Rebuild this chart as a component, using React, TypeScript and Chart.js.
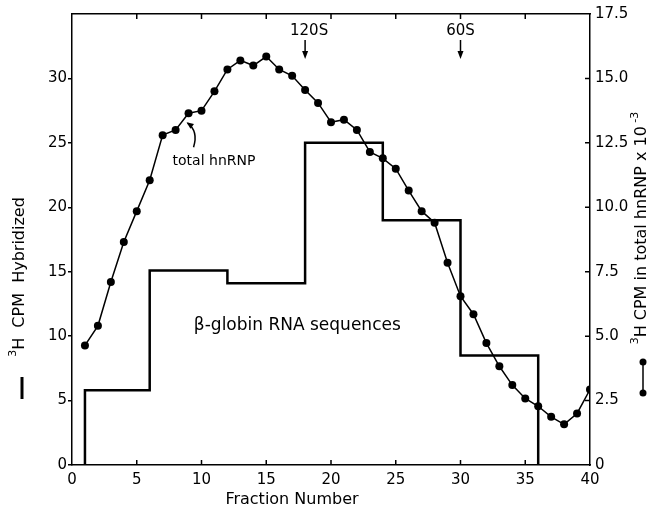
import React, { useEffect, useRef } from 'react';
import { Chart, registerables } from 'chart.js';

Chart.register(...registerables);

// ---- data ----
const fractions = [
  1, 2, 3, 4, 5, 6, 7, 8, 9, 10, 11, 12, 13, 14, 15, 16, 17, 18, 19, 20,
  21, 22, 23, 24, 25, 26, 27, 28, 29, 30, 31, 32, 33, 34, 35, 36, 37, 38, 39, 40,
];
// 3H CPM in total hnRNP x 10^-3 (right axis)
const totalHnRNP = [
  4.64, 5.4, 7.1, 8.65, 9.85, 11.05, 12.8, 13.0, 13.65, 13.75,
  14.5, 15.35, 15.7, 15.5, 15.85, 15.35, 15.1, 14.55, 14.05, 13.3,
  13.4, 13.0, 12.15, 11.9, 11.5, 10.65, 9.85, 9.4, 7.85, 6.55,
  5.85, 4.73, 3.83, 3.1, 2.58, 2.28, 1.87, 1.58, 2.0, 2.93,
];
// beta-globin RNA sequences, 3H CPM hybridized (left axis), pooled fractions
const poolEdges = [1, 6, 12, 18, 24, 30, 36];
const poolValues = [5.8, 15.1, 14.1, 25.0, 19.0, 8.5, 0];
const markers = [
  { label: '120S', fraction: 18 },
  { label: '60S', fraction: 30 },
];

const FONT = '"DejaVu Sans", "Liberation Sans", sans-serif';

type Part = { t: string; sup?: boolean };

function drawRich(ctx: CanvasRenderingContext2D, parts: Part[], cx: number, cy: number, size: number, rotate: boolean) {
  const supSize = Math.round(size * 0.7);
  ctx.save();
  let total = 0;
  const widths = parts.map((p) => {
    ctx.font = `${p.sup ? supSize : size}px ${FONT}`;
    const w = ctx.measureText(p.t).width;
    total += w;
    return w;
  });
  ctx.translate(cx, cy);
  if (rotate) ctx.rotate(-Math.PI / 2);
  ctx.textBaseline = 'middle';
  ctx.textAlign = 'left';
  let x = -total / 2;
  parts.forEach((p, i) => {
    ctx.font = `${p.sup ? supSize : size}px ${FONT}`;
    ctx.fillText(p.t, x, p.sup ? -size * 0.4 : 0);
    x += widths[i];
  });
  ctx.restore();
}

function arrowHead(ctx: CanvasRenderingContext2D, x: number, y: number, ang: number, len: number, half: number) {
  ctx.beginPath();
  ctx.moveTo(x, y);
  ctx.lineTo(x - len * Math.cos(ang) + half * Math.sin(ang), y - len * Math.sin(ang) - half * Math.cos(ang));
  ctx.lineTo(x - len * Math.cos(ang) - half * Math.sin(ang), y - len * Math.sin(ang) + half * Math.cos(ang));
  ctx.closePath();
  ctx.fill();
}

const annotations = {
  id: 'annotations',
  afterDraw(chart: any) {
    const { ctx, chartArea: ca, scales } = chart;
    const xs = scales.x;
    const y2 = scales.y2;
    ctx.save();
    ctx.strokeStyle = '#000';
    ctx.fillStyle = '#000';
    ctx.lineWidth = 1.5;

    // inner tick marks: bottom, top, right
    ctx.beginPath();
    for (let v = 5; v < 40; v += 5) {
      const px = xs.getPixelForValue(v);
      ctx.moveTo(px, ca.bottom);
      ctx.lineTo(px, ca.bottom - 5);
      ctx.moveTo(px, ca.top);
      ctx.lineTo(px, ca.top + 5);
    }
    for (let v = 2.5; v < 17.5; v += 2.5) {
      const py = y2.getPixelForValue(v);
      ctx.moveTo(ca.right, py);
      ctx.lineTo(ca.right - 5, py);
    }
    ctx.stroke();

    // sedimentation markers
    markers.forEach((m) => {
      const px = xs.getPixelForValue(m.fraction);
      ctx.font = `15px ${FONT}`;
      ctx.textAlign = 'center';
      ctx.textBaseline = 'middle';
      ctx.fillText(m.label, px + (m.label.length > 3 ? 4 : 0), ca.top + 17);
      ctx.beginPath();
      ctx.moveTo(px, ca.top + 26);
      ctx.lineTo(px, ca.top + 40);
      ctx.stroke();
      arrowHead(ctx, px, ca.top + 45, Math.PI / 2, 8, 3);
    });

    // total hnRNP label with curved arrow
    const ax = xs.getPixelForValue(9);
    const ay = y2.getPixelForValue(totalHnRNP[8]);
    ctx.font = `14px ${FONT}`;
    ctx.textAlign = 'left';
    ctx.textBaseline = 'middle';
    ctx.fillText('total hnRNP', ax - 16, ay + 48);
    ctx.beginPath();
    ctx.moveTo(ax + 5, ay + 34);
    ctx.quadraticCurveTo(ax + 10, ay + 18, ax - 1, ay + 10);
    ctx.stroke();
    arrowHead(ctx, ax - 2, ay + 9, Math.atan2(-8, -11), 7, 3);

    // beta-globin label
    ctx.font = `17px ${FONT}`;
    ctx.textAlign = 'center';
    ctx.fillText('\u03B2-globin RNA sequences', xs.getPixelForValue(17.4), ca.top + 312);

    // axis titles
    drawRich(ctx, [{ t: 'Fraction Number' }], 292, 500, 16, false);
    drawRich(ctx, [{ t: '3', sup: true }, { t: 'H  CPM  Hybridized' }], 20, 277, 16, true);
    drawRich(
      ctx,
      [{ t: '3', sup: true }, { t: 'H CPM in total hnRNP x 10' }, { t: ' -3', sup: true }],
      642,
      228,
      16,
      true
    );

    // legend keys
    ctx.lineWidth = 3;
    ctx.beginPath();
    ctx.moveTo(22, 377);
    ctx.lineTo(22, 399);
    ctx.stroke();

    ctx.lineWidth = 1.5;
    ctx.beginPath();
    ctx.moveTo(643, 362);
    ctx.lineTo(643, 393);
    ctx.stroke();
    [362, 393].forEach((yy) => {
      ctx.beginPath();
      ctx.arc(643, yy, 3.5, 0, Math.PI * 2);
      ctx.fill();
    });

    ctx.restore();
  },
};

export default function App() {
  const ref = useRef<HTMLCanvasElement | null>(null);

  useEffect(() => {
    if (!ref.current) return;
    const histData = [{ x: poolEdges[0], y: 0 }].concat(
      poolEdges.map((e, i) => ({ x: e, y: poolValues[i] }))
    );
    const tickFont = { family: FONT, size: 15 };
    const chart = new Chart(ref.current, {
      type: 'line',
      data: {
        datasets: [
          {
            label: 'total hnRNP',
            data: fractions.map((f, i) => ({ x: f, y: totalHnRNP[i] })),
            yAxisID: 'y2',
            xAxisID: 'x',
            borderColor: '#000',
            backgroundColor: '#000',
            borderWidth: 1.5,
            pointRadius: 4,
            pointBackgroundColor: '#000',
            pointBorderWidth: 0,
            tension: 0,
            fill: false,
          },
          {
            label: 'beta-globin RNA sequences',
            data: histData,
            yAxisID: 'y',
            xAxisID: 'x',
            borderColor: '#000',
            borderWidth: 2.5,
            pointRadius: 0,
            stepped: 'before',
            fill: false,
          },
        ],
      },
      options: {
        responsive: false,
        animation: false,
        layout: { padding: 0 },
        plugins: { legend: { display: false }, tooltip: { enabled: false } },
        scales: {
          x: {
            type: 'linear',
            position: 'bottom',
            min: 0,
            max: 40,
            ticks: { stepSize: 5, color: '#000', font: tickFont, padding: 6, maxRotation: 0, autoSkip: false },
            grid: { drawOnChartArea: false, drawTicks: false },
            border: { color: '#000', width: 1.5 },
            afterFit: (s: any) => { s.height = 56; },
          },
          xTop: {
            type: 'linear',
            position: 'top',
            min: 0,
            max: 40,
            ticks: { display: false },
            grid: { drawOnChartArea: false, drawTicks: false },
            border: { color: '#000', width: 1.5 },
            afterFit: (s: any) => { s.height = 13; },
          },
          y: {
            type: 'linear',
            position: 'left',
            min: 0,
            max: 35,
            ticks: {
              stepSize: 5,
              color: '#000',
              font: tickFont,
              padding: 1,
              callback: (v: any) => (v === 35 ? null : String(v)),
            },
            grid: { drawOnChartArea: false, drawTicks: true, tickLength: 4, color: '#000', lineWidth: 1.5 },
            border: { color: '#000', width: 1.5 },
            afterFit: (s: any) => { s.width = 72; },
          },
          y2: {
            type: 'linear',
            position: 'right',
            min: 0,
            max: 17.5,
            ticks: {
              stepSize: 2.5,
              color: '#000',
              font: tickFont,
              padding: 5,
              callback: (v: any) => (v === 0 ? '0' : Number(v).toFixed(1)),
            },
            grid: { drawOnChartArea: false, drawTicks: false },
            border: { color: '#000', width: 1.5 },
            afterFit: (s: any) => { s.width = 66; },
          },
        },
      },
      plugins: [annotations],
    });
    return () => chart.destroy();
  }, []);

  return (
    <div style={{ position: 'fixed', left: 0, top: 0, width: 656, height: 521, background: '#fff' }}>
      <canvas ref={ref} width={656} height={521} />
    </div>
  );
}
